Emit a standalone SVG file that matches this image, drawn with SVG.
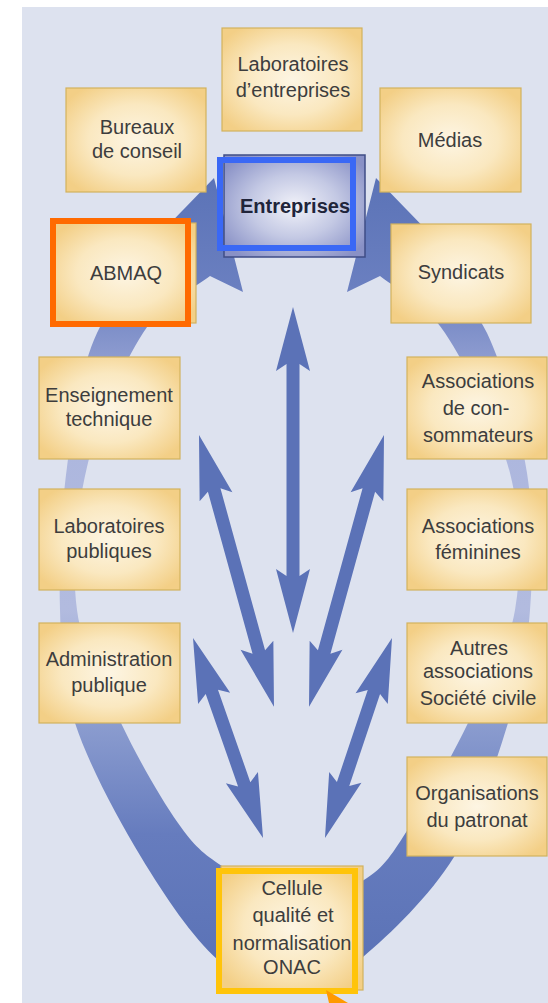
<svg xmlns="http://www.w3.org/2000/svg" width="548" height="1003" viewBox="0 0 548 1003">
<defs>
<radialGradient id="boxg" cx="0.5" cy="0.5" r="0.62">
<stop offset="0" stop-color="#fdf5e3"/>
<stop offset="0.55" stop-color="#fae8c0"/>
<stop offset="1" stop-color="#f3cf86"/>
</radialGradient>
<radialGradient id="entg" cx="0.5" cy="0.5" r="0.62">
<stop offset="0" stop-color="#f1f2f9"/>
<stop offset="0.5" stop-color="#c4c9e4"/>
<stop offset="1" stop-color="#8991c6"/>
</radialGradient>
<linearGradient id="ringg" gradientUnits="userSpaceOnUse" x1="0" y1="170" x2="0" y2="1000">
<stop offset="0" stop-color="#5a72b6"/>
<stop offset="0.14" stop-color="#6a7fc0"/>
<stop offset="0.24" stop-color="#93a0d2"/>
<stop offset="0.34" stop-color="#adb7de"/>
<stop offset="0.53" stop-color="#b2bbdf"/>
<stop offset="0.66" stop-color="#8d9ed0"/>
<stop offset="0.8" stop-color="#667cbe"/>
<stop offset="1" stop-color="#5870b4"/>
</linearGradient>
<style>
.box{fill:url(#boxg);stroke:#d2b25e;stroke-width:1.2}
.t{font-family:"Liberation Sans",Arial,sans-serif;font-size:20px;fill:#3d3d3d;text-anchor:middle}
.tb{font-family:"Liberation Sans",Arial,sans-serif;font-size:20px;font-weight:bold;fill:#20243a;text-anchor:middle}
.arr{fill:#5b72b7}
.hl{fill:none;stroke-width:6}
</style>
</defs>
<rect x="0" y="0" width="548" height="1003" fill="#ffffff"/>
<rect x="22" y="7" width="526" height="996" fill="#dde2ef"/>

<g id="connectors">
<path id="ring" fill="url(#ringg)" d="M165,258 C153.7,270.5 113.3,298.2 97,333 C80.7,367.8 73.2,420.8 67,467 C60.8,513.2 58.7,567.3 60,610 C61.3,652.7 61.5,681.8 75,723 C88.5,764.2 117.2,817.5 141,857 C164.8,896.5 192.7,937.5 218,960 C243.3,982.5 268.8,992.5 293,992 C317.2,991.5 336.2,979.5 363,957 C389.8,934.5 429.8,896 454,857 C478.2,818 495.3,764.2 508,723 C520.7,681.8 526.8,651.7 530,610 C533.2,568.3 534.2,519.2 527,473 C519.8,426.8 504,368.8 487,333 C470,297.2 435.3,270.5 425,258 L438,242 L376,178 L347,292 L380,276 C390.8,285.5 423.3,300.2 445,333 C466.7,365.8 498.3,426.8 510,473 C521.7,519.2 522,568.3 515,610 C508,651.7 485.2,687.5 468,723 C450.8,758.5 428.8,797.2 412,823 C395.2,848.8 386.8,865.2 367,878 C347.2,890.8 317.2,902 293,900 C268.8,898 241.2,878.8 222,866 C202.8,853.2 194.8,846.8 178,823 C161.2,799.2 137.8,758.5 121,723 C104.2,687.5 82.7,652.7 77,610 C71.3,567.3 76,513.2 87,467 C98,420.8 122.5,364.8 143,333 C163.5,301.2 198.8,285.5 210,276 L243,292 L214,178 L152,242 Z"/>
<path class="arr" transform="translate(293,307) rotate(90)" d="M0,0 L64,-17 L57,-6.5 L269,-6.5 L262,-17 L326,0 L262,17 L269,6.5 L57,6.5 L64,17 Z"/>
<path class="arr" transform="translate(199,435) rotate(74.58)" d="M0,0 L64,-17 L57,-6.5 L225,-6.5 L218,-17 L282,0 L218,17 L225,6.5 L57,6.5 L64,17 Z"/>
<path class="arr" transform="translate(384,435) rotate(105.42)" d="M0,0 L64,-17 L57,-6.5 L225,-6.5 L218,-17 L282,0 L218,17 L225,6.5 L57,6.5 L64,17 Z"/>
<path class="arr" transform="translate(193,638) rotate(70.71)" d="M0,0 L64,-17 L57,-6.5 L155,-6.5 L148,-17 L212,0 L148,17 L155,6.5 L57,6.5 L64,17 Z"/>
<path class="arr" transform="translate(392,638) rotate(108.52)" d="M0,0 L64,-17 L57,-6.5 L154,-6.5 L147,-17 L211,0 L147,17 L154,6.5 L57,6.5 L64,17 Z"/>
</g>

<g id="n-labent"><rect class="box" x="222" y="28" width="140" height="103"/><text class="t" x="293" y="71">Laboratoires</text><text class="t" x="293" y="97">d’entreprises</text></g>
<g id="n-bureaux"><rect class="box" x="66" y="88" width="140" height="104"/><text class="t" x="137" y="134">Bureaux</text><text class="t" x="137" y="158">de conseil</text></g>
<g id="n-medias"><rect class="box" x="380" y="88" width="141" height="104"/><text class="t" x="450" y="147">Médias</text></g>
<g id="n-entreprises"><rect x="224" y="155" width="141" height="102" fill="url(#entg)" stroke="#3f4d86" stroke-width="1.5"/><text class="tb" x="295" y="213">Entreprises</text><rect class="hl" stroke="#3a68f5" x="220" y="160" width="133" height="88"/></g>
<g id="n-abmaq"><rect class="box" x="54" y="223" width="142" height="100"/><text class="t" x="126" y="280">ABMAQ</text><rect class="hl" stroke="#ff6a00" x="53" y="221" width="135" height="103"/></g>
<g id="n-syndicats"><rect class="box" x="391" y="224" width="140" height="99"/><text class="t" x="461" y="279">Syndicats</text></g>
<g id="n-enseignement"><rect class="box" x="39" y="357" width="141" height="102"/><text class="t" x="109" y="402">Enseignement</text><text class="t" x="109" y="426">technique</text></g>
<g id="n-assoccons"><rect class="box" x="407" y="357" width="140" height="102"/><text class="t" x="478" y="388">Associations</text><text class="t" x="476" y="415">de con-</text><text class="t" x="478" y="442">sommateurs</text></g>
<g id="n-labpub"><rect class="box" x="39" y="489" width="141" height="101"/><text class="t" x="109" y="533">Laboratoires</text><text class="t" x="109" y="558">publiques</text></g>
<g id="n-assocfem"><rect class="box" x="407" y="489" width="140" height="101"/><text class="t" x="478" y="533">Associations</text><text class="t" x="478" y="559">féminines</text></g>
<g id="n-admin"><rect class="box" x="39" y="623" width="141" height="100"/><text class="t" x="109" y="666">Administration</text><text class="t" x="109" y="692">publique</text></g>
<g id="n-autres"><rect class="box" x="407" y="623" width="140" height="100"/><text class="t" x="479" y="655">Autres</text><text class="t" x="478" y="678">associations</text><text class="t" x="478" y="705">Société civile</text></g>
<g id="n-organisations"><rect class="box" x="407" y="757" width="140" height="99"/><text class="t" x="477" y="800">Organisations</text><text class="t" x="477" y="827">du patronat</text></g>
<g id="n-cellule"><rect class="box" x="221" y="866" width="142" height="124"/><text class="t" x="292" y="895">Cellule</text><text class="t" x="293" y="922">qualité et</text><text class="t" x="292" y="950">normalisation</text><text class="t" x="292" y="974">ONAC</text><rect class="hl" stroke="#ffc40a" x="219" y="871" width="136" height="120"/></g>
<polygon points="326,990 348,1003 329,1003" fill="#ff9a00"/>
</svg>
